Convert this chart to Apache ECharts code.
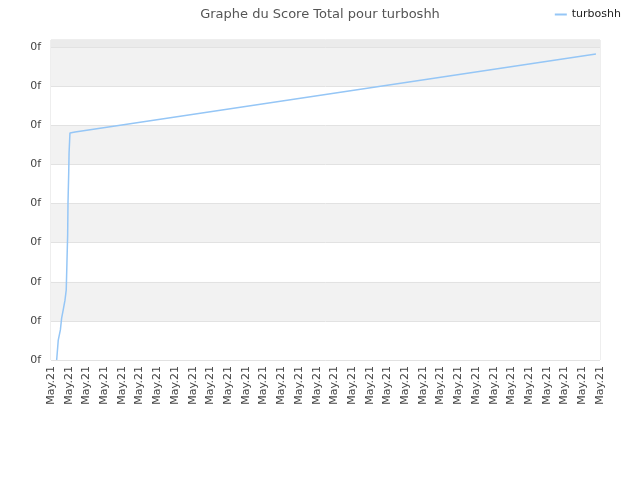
<!DOCTYPE html>
<html>
<head>
<meta charset="utf-8">
<script src="https://cdn.jsdelivr.net/npm/echarts@6/dist/echarts.min.js"></script>
<style>html,body{margin:0;padding:0;background:#fff}#c{width:640px;height:480px}</style>
</head>
<body>
<div id="c"></div>
<script>
var title = 'Graphe du Score Total pour turboshh';
var seriesName = 'turboshh';
var xTickCount = 32;
var xTickLabel = 'May.21';
var yTickLabel = '0f';
var xValues = [0.32, 0.41, 0.53, 0.60, 0.69, 0.79, 0.86, 0.90, 0.94, 0.96, 1.00, 1.02, 1.07, 1.36, 30.77];
var yValues = [0, 0.51, 0.77, 1.07, 1.28, 1.53, 1.79, 2.48, 3.19, 4.01, 4.78, 5.29, 5.80, 5.83, 7.82];

var data = xValues.map(function (x, i) { return [x, yValues[i]]; });
var chart = echarts.init(document.getElementById('c'));
var font = 'DejaVu Sans';
chart.setOption({
  animation: false,
  title: {
    text: title, left: 'center', top: 3,
    textStyle: { fontFamily: font, fontSize: 13, fontWeight: 'normal', color: '#555' }
  },
  legend: {
    right: 14, top: 4, itemWidth: 12, itemHeight: 2, itemGap: 6,
    icon: 'rect',
    textStyle: { fontFamily: font, fontSize: 11, color: '#222' },
    data: [seriesName]
  },
  grid: {
    left: 51, right: 40, top: 40, bottom: 120,
    show: true, borderColor: '#dddddd', borderWidth: 1, backgroundColor: 'transparent'
  },
  xAxis: {
    type: 'value', min: 0, max: xTickCount - 1, interval: 1,
    axisLine: { show: false }, axisTick: { show: false },
    splitLine: { show: false },
    axisLabel: {
      rotate: 90, fontFamily: font, fontSize: 11, color: '#444', margin: 6,
      formatter: function () { return xTickLabel; }
    }
  },
  yAxis: {
    type: 'value', min: 0, max: 8.18, interval: 1,
    axisLine: { show: false }, axisTick: { show: false },
    splitLine: { show: true, lineStyle: { color: '#e2e2e2', width: 1 } },
    splitArea: { show: true, areaStyle: { color: ['#ffffff', '#f2f2f2'] } },
    axisLabel: {
      fontFamily: font, fontSize: 11, color: '#444', margin: 10,
      formatter: function (v) { return Math.abs(v - Math.round(v)) < 1e-6 ? yTickLabel : ''; }
    }
  },
  series: [{
    name: seriesName, type: 'line', data: data, showSymbol: false,
    lineStyle: { color: '#95c6f6', width: 1.5 },
    itemStyle: { color: '#95c6f6' },
    markArea: {
      silent: true,
      itemStyle: { color: '#ebebeb' },
      data: [[{ yAxis: 8 }, { yAxis: 8.18 }]]
    }
  }]
});
</script>
</body>
</html>
